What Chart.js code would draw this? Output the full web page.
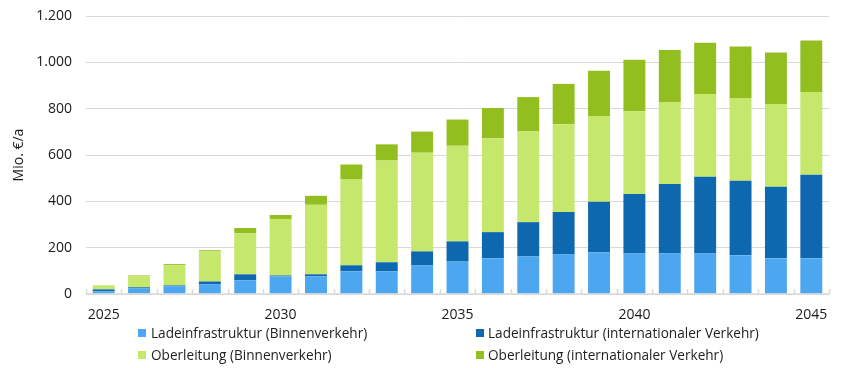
<!DOCTYPE html>
<html>
<head>
<meta charset="utf-8">
<script src="https://cdn.jsdelivr.net/npm/chart.js@4/dist/chart.umd.min.js"></script>
<style>
  html, body { margin: 0; padding: 0; background: #fff; }
  #wrap { position: relative; width: 849px; height: 368px; }
  #legend { position: absolute; left: 0; top: 0; width: 849px; height: 368px; pointer-events: none;
            font-family: "Open Sans", sans-serif; font-size: 13.6px; color: #222; }
  .li { position: absolute; height: 16px; line-height: 16px; white-space: nowrap; }
  .li .box { position: absolute; left: 0; top: 4px; width: 8px; height: 8px; }
  .li .txt { position: absolute; top: 0; }
</style>
</head>
<body>
<div id="wrap">
  <canvas id="c" width="849" height="368"></canvas>
  <div id="legend"></div>
</div>
<script>
const years = [2025,2026,2027,2028,2029,2030,2031,2032,2033,2034,2035,2036,2037,2038,2039,2040,2041,2042,2043,2044,2045];
const seriesNames = [
  "Ladeinfrastruktur (Binnenverkehr)",
  "Ladeinfrastruktur (internationaler Verkehr)",
  "Oberleitung (Binnenverkehr)",
  "Oberleitung (internationaler Verkehr)"
];
const ladeBinnen = [12, 25, 33, 41, 59, 76, 76, 98, 98, 123, 140, 154, 162, 171, 180, 175, 175, 175, 167, 154, 154];
const ladeIntl   = [8, 4, 4, 13, 26, 4, 9, 26, 39, 61, 87, 113, 148, 183, 218, 257, 300, 331, 322, 309, 361];
const oberBinnen = [17, 47, 88, 131, 178, 244, 300, 370, 439, 426, 413, 405, 392, 379, 370, 357, 352, 357, 357, 357, 357];
const oberIntl   = [1, 4, 4, 4, 22, 17, 39, 65, 70, 91, 113, 131, 148, 174, 196, 222, 226, 222, 222, 222, 222];
const yTicks = [0, 200, 400, 600, 800, 1000, 1200];
const yTitle = "Mio. €/a";

const colors = ["#4ca7f0", "#0e68b0", "#c5e76c", "#93be20"];
const FONT = "'Open Sans', sans-serif";
const GRID = "#d9d9d9";

function fmtDE(v) {
  return String(v).replace(/\B(?=(\d{3})+(?!\d))/g, ".");
}

const innerTicks = {
  id: "innerTicks",
  afterDatasetsDraw(chart) {
    const x = chart.scales.x;
    const ctx = chart.ctx;
    const n = chart.data.labels.length;
    const b = chart.chartArea.bottom;
    ctx.save();
    ctx.strokeStyle = GRID;
    ctx.lineWidth = 1.5;
    ctx.beginPath();
    for (let i = 0; i <= n; i++) {
      const px = Math.round(x.left + i * (x.right - x.left) / n) + 0.5;
      ctx.moveTo(px, b - 5);
      ctx.lineTo(px, b);
    }
    ctx.stroke();
    ctx.beginPath();
    ctx.moveTo(x.left, b);
    ctx.lineTo(x.right, b);
    ctx.lineWidth = 1.5;
    ctx.stroke();
    ctx.restore();
  }
};

const data = {
  labels: years,
  datasets: [ladeBinnen, ladeIntl, oberBinnen, oberIntl].map((arr, i) => ({
    label: seriesNames[i],
    data: arr,
    backgroundColor: colors[i],
    borderWidth: 0,
    categoryPercentage: 1.0,
    barPercentage: 0.62
  }))
};

const chart = new Chart(document.getElementById("c"), {
  type: "bar",
  data,
  plugins: [innerTicks],
  options: {
    responsive: false,
    animation: false,
    devicePixelRatio: 1,
    layout: { padding: { left: 0, right: 20, top: 16, bottom: 49 } },
    plugins: { legend: { display: false }, tooltip: { enabled: false } },
    scales: {
      x: {
        stacked: true,
        afterFit(s) { s.height = 25; s.paddingLeft = 0; s.paddingRight = 0; },
        grid: { display: false, drawOnChartArea: false, drawTicks: false },
        border: { display: false },
        ticks: {
          autoSkip: false, maxRotation: 0, minRotation: 0, padding: 13,
          color: "#1a1a1a", font: { family: FONT, size: 14 },
          callback(v, i) { const y = years[i]; return y % 5 === 0 ? String(y) : ""; }
        }
      },
      y: {
        stacked: true,
        min: 0, max: 1200,
        afterFit(s) { s.width = 86; s.paddingTop = 0; s.paddingBottom = 0; },
        afterBuildTicks(s) { s.ticks = yTicks.map(v => ({ value: v })); },
        grid: { color: GRID, lineWidth: 1, drawTicks: false },
        border: { display: false },
        ticks: {
          padding: 14, color: "#1a1a1a", font: { family: FONT, size: 14 },
          callback(v) { return fmtDE(v); }
        },
        title: {
          display: true, text: yTitle, color: "#1a1a1a",
          font: { family: FONT, size: 14 }, padding: { top: 11, bottom: 0 }
        }
      }
    }
  }
});

// Legend built from the chart's datasets, laid out in two columns
const legendPos = [
  { left: 138, top: 325 }, { left: 476, top: 325 },
  { left: 138, top: 347 }, { left: 476, top: 347 }
];
const textOffset = [13, 12, 13, 12];
const lg = document.getElementById("legend");
chart.data.datasets.forEach((ds, i) => {
  const d = document.createElement("div");
  d.className = "li";
  d.style.left = legendPos[i].left + "px";
  d.style.top = legendPos[i].top + "px";
  const b = document.createElement("span");
  b.className = "box";
  b.style.background = ds.backgroundColor;
  const t = document.createElement("span");
  t.className = "txt";
  t.style.left = textOffset[i] + "px";
  t.textContent = ds.label;
  d.appendChild(b); d.appendChild(t);
  lg.appendChild(d);
});
</script>
</body>
</html>
